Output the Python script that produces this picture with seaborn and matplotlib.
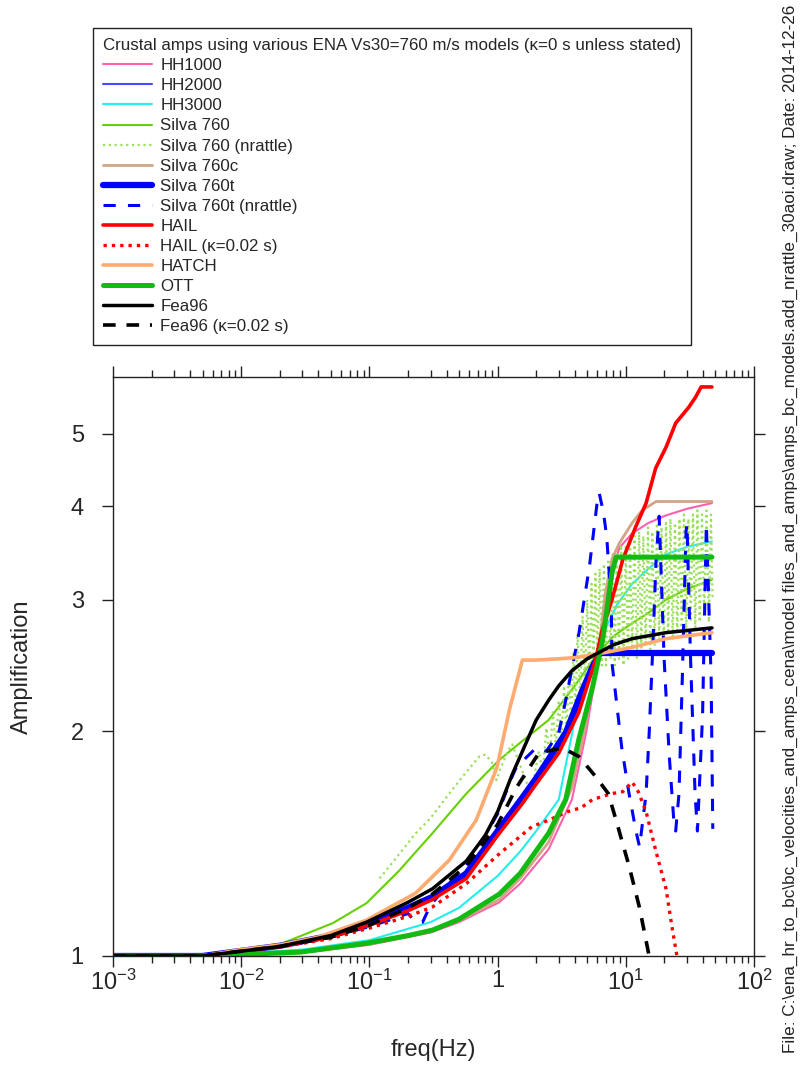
import matplotlib
matplotlib.use('Agg')
import matplotlib.pyplot as plt
import matplotlib.ticker as ticker
import seaborn as sns

# ---- data (freq in Hz, amplification) ----
hh1000_f = [0.001, 0.005, 0.01, 0.03, 0.1, 0.3, 0.5, 1.03, 1.5, 2.5, 3.8, 4.9, 6.2, 6.9, 8.9, 11.2, 15, 20.6, 30, 47]
hh1000_a = [1.0, 1.0, 1.003, 1.01, 1.035, 1.075, 1.11, 1.18, 1.25, 1.39, 1.62, 1.99, 2.54, 3.0, 3.52, 3.68, 3.8, 3.89, 3.97, 4.04]

hh2000_f = [0.001, 0.005, 0.01, 0.02, 0.05, 0.1, 0.2, 0.31, 0.57, 1.0, 1.56, 2.0, 3.0, 4.3, 5.0, 5.8, 6.5, 7.8, 9.5, 11.9, 14.4, 17.1, 20.6, 24.5, 31, 35, 38.7, 47]
hh2000_a = [1.0, 1.0, 1.016, 1.031, 1.062, 1.102, 1.155, 1.195, 1.28, 1.46, 1.61, 1.71, 1.88, 2.12, 2.3, 2.49, 2.72, 3.0, 3.4, 3.75, 4.04, 4.5, 4.8, 5.17, 5.43, 5.6, 5.78, 5.78]

hh3000_f = [0.001, 0.005, 0.01, 0.03, 0.1, 0.3, 0.5, 1.0, 1.5, 2.0, 3.0, 4.3, 5.8, 7.0, 8.5, 11.2, 15, 20.6, 30, 47]
hh3000_a = [1.0, 1.0, 1.008, 1.02, 1.05, 1.11, 1.16, 1.28, 1.38, 1.47, 1.62, 2.2, 2.51, 2.75, 2.95, 3.15, 3.3, 3.45, 3.53, 3.59]

silva_f = [0.001, 0.0048, 0.01, 0.021, 0.052, 0.095, 0.17, 0.31, 0.57, 1.03, 1.5, 2.5, 4.0, 5.8, 8.0, 11.2, 15, 20.6, 30, 47]
silva_a = [1.0, 1.0, 1.015, 1.04, 1.107, 1.177, 1.30, 1.46, 1.65, 1.83, 1.93, 2.07, 2.3, 2.52, 2.68, 2.79, 2.88, 3.0, 3.1, 3.19]

silva_nr_f = [0.12, 0.16, 0.23, 0.3, 0.42, 0.55, 0.72, 0.8, 0.9, 0.98, 1.05, 1.2, 1.3, 1.5, 1.7, 1.85,
              2.1, 2.25, 2.4, 2.55, 2.7, 2.85, 3.0, 3.15, 3.3, 3.45, 3.6, 3.75, 3.9, 4.05, 4.2, 4.4,
              4.6, 4.8, 5.0, 5.2, 5.4, 5.6, 5.8, 6.0, 6.25, 6.5, 6.75, 7.0, 7.3, 7.6, 7.9, 8.2, 8.5,
              8.85, 9.2, 9.6, 10.0, 10.4, 10.8, 11.2, 11.7, 12.2, 12.7, 13.2, 13.7, 14.3, 14.9, 15.5,
              16.1, 16.8, 17.5, 18.2, 19.0, 19.8, 20.6, 21.4, 22.3, 23.2, 24.2, 25.2, 26.2, 27.3,
              28.4, 29.6, 30.8, 32.1, 33.4, 34.8, 36.2, 37.7, 39.3, 40.9, 42.6, 44.4, 46.2, 47.5]
silva_nr_a = [1.27, 1.35, 1.46, 1.53, 1.65, 1.75, 1.85, 1.86, 1.82, 1.72, 1.78, 1.88, 1.92, 1.80, 1.70, 1.67,
              1.88, 1.75, 2.02, 1.85, 2.12, 1.90, 2.20, 1.95, 2.30, 2.00, 2.40, 2.05, 2.55, 2.10, 2.70, 2.20,
              2.85, 2.30, 3.00, 2.35, 3.15, 2.45, 3.25, 2.50, 3.30, 2.45, 3.35, 2.45, 3.40, 2.50, 3.45, 2.45, 3.50,
              2.50, 3.55, 2.45, 3.55, 2.50, 3.60, 2.55, 3.65, 2.50, 3.70, 2.55, 3.65, 2.60, 3.75, 2.55,
              3.70, 2.60, 3.80, 2.65, 3.75, 2.60, 3.80, 2.70, 3.85, 2.65, 3.80, 2.70, 3.85, 2.75,
              3.90, 2.70, 3.85, 2.80, 3.90, 2.75, 3.95, 2.80, 3.90, 2.85, 3.95, 2.80, 3.90, 3.00]

silva_c_f = [0.001, 0.005, 0.01, 0.03, 0.1, 0.3, 0.5, 1.03, 1.5, 2.5, 3.8, 4.9, 6.2, 6.9, 7.8, 8.9, 11.2, 13.4, 17.2, 47]
silva_c_a = [1.0, 1.0, 1.004, 1.012, 1.038, 1.08, 1.115, 1.19, 1.27, 1.42, 1.68, 2.05, 2.6, 3.05, 3.40, 3.57, 3.8, 3.95, 4.06, 4.06]

silva_t_f = [0.001, 0.005, 0.01, 0.02, 0.05, 0.1, 0.2, 0.31, 0.57, 1.0, 1.56, 2.0, 3.4, 4.5, 5.5, 6.3, 47]
silva_t_a = [1.0, 1.0, 1.016, 1.032, 1.065, 1.105, 1.16, 1.20, 1.29, 1.47, 1.63, 1.73, 1.99, 2.25, 2.44, 2.545, 2.545]

silva_tnr_f = [0.001, 0.005, 0.01, 0.02, 0.05, 0.1, 0.15, 0.2, 0.23, 0.26, 0.3, 0.4, 0.57, 0.8, 1.0, 1.3, 1.4,
               2.0, 2.4, 3.0, 3.4, 4.3, 5.2, 6.0, 6.2, 6.7, 7.1, 7.7, 7.8, 9.3, 10.6, 12.0, 12.8, 14.4,
               15.2, 16.1, 17.2, 18.2, 19.9, 21.8, 23.8, 24.5, 26.0, 27.6, 29.5, 30.0, 32.0, 34.7, 36.2,
               39.7, 42.5, 46.3, 47.7]
silva_tnr_a = [1.0, 1.0, 1.017, 1.03, 1.06, 1.095, 1.12, 1.14, 1.11, 1.11, 1.17, 1.24, 1.32, 1.45, 1.55, 1.74, 1.79,
               1.9, 1.88, 1.99, 2.2, 2.7, 3.32, 4.07, 4.17, 3.92, 3.64, 2.97, 2.47, 1.9, 1.65, 1.47, 1.40, 1.65,
               1.98, 2.5, 3.37, 3.88, 2.5, 1.86, 1.50, 1.47, 1.65, 2.36, 3.7, 3.79, 2.5, 1.65, 1.47,
               2.1, 3.79, 2.36, 1.48]

hail_f = [0.001, 0.005, 0.01, 0.02, 0.05, 0.1, 0.2, 0.31, 0.57, 1.0, 1.56, 2.0, 3.0, 4.3, 5.0, 5.8, 6.5, 7.8, 9.5, 11.9, 14.4, 17.1, 20.6, 24.5, 31, 35, 38.7, 47]
hail_a = [1.0, 1.0, 1.015, 1.03, 1.06, 1.10, 1.15, 1.19, 1.27, 1.45, 1.60, 1.70, 1.87, 2.12, 2.30, 2.49, 2.72, 3.0, 3.4, 3.75, 4.04, 4.5, 4.8, 5.17, 5.43, 5.6, 5.78, 5.78]

hail02_f = [0.001, 0.005, 0.01, 0.02, 0.05, 0.1, 0.2, 0.31, 0.57, 1.03, 1.85, 2.5, 3.5, 4.5, 5.5, 7.8, 9.5, 11.2, 12.5, 14.4, 17.2, 20.6, 23, 25.3, 26]
hail02_a = [1.0, 1.0, 1.015, 1.028, 1.055, 1.09, 1.13, 1.163, 1.25, 1.37, 1.49, 1.52, 1.56, 1.58, 1.62, 1.65, 1.66, 1.71, 1.66, 1.56, 1.38, 1.23, 1.09, 0.99, 0.95]

hatch_f = [0.001, 0.005, 0.01, 0.02, 0.04, 0.095, 0.23, 0.42, 0.68, 0.99, 1.24, 1.56, 2.0, 3.0, 4.1, 6.2, 11.2, 20.6, 47]
hatch_a = [1.0, 1.0, 1.02, 1.035, 1.06, 1.117, 1.214, 1.344, 1.52, 1.79, 2.14, 2.49, 2.49, 2.50, 2.51, 2.54, 2.59, 2.66, 2.71]

ott_f = [0.001, 0.005, 0.01, 0.029, 0.05, 0.095, 0.2, 0.31, 0.5, 1.03, 1.5, 2.5, 3.4, 4.3, 5.5, 6.6, 7.8, 8.4, 47]
ott_a = [1.0, 1.0, 1.005, 1.012, 1.025, 1.04, 1.065, 1.083, 1.12, 1.21, 1.29, 1.46, 1.62, 1.95, 2.29, 2.65, 3.26, 3.42, 3.42]

fea_f = [0.001, 0.005, 0.01, 0.02, 0.05, 0.095, 0.2, 0.31, 0.57, 0.8, 1.0, 1.3, 1.67, 2.0, 2.5, 3.0, 3.8, 5.0, 6.2, 8, 11.2, 20.6, 47]
fea_a = [1.0, 1.0, 1.015, 1.03, 1.065, 1.11, 1.18, 1.23, 1.34, 1.45, 1.56, 1.75, 1.93, 2.07, 2.2, 2.3, 2.41, 2.5, 2.55, 2.61, 2.66, 2.71, 2.75]

fea02_f = [0.001, 0.005, 0.01, 0.02, 0.05, 0.1, 0.2, 0.31, 0.57, 1.0, 1.4, 2.1, 3.2, 4.3, 5.8, 7.3, 8.4, 10.6, 12.8, 15.2, 16]
fea02_a = [1.0, 1.0, 1.015, 1.03, 1.06, 1.10, 1.16, 1.21, 1.32, 1.5, 1.68, 1.87, 1.9, 1.85, 1.74, 1.65, 1.52, 1.32, 1.16, 1.0, 0.96]

legend_title = 'Crustal amps using various ENA Vs30=760 m/s models (\u03ba=0 s unless stated)'
file_note = ('File: C:\\ena_hr_to_bc\\bc_velocities_and_amps_cena\\model files_and_amps\\'
             'amps_bc_models.add_nrattle_30aoi.draw; Date: 2014-12-26')
xtick_vals = [1e-3, 1e-2, 1e-1, 1, 1e1, 1e2]
xtick_labels = ['$\\mathregular{10^{-3}}$', '$\\mathregular{10^{-2}}$', '$\\mathregular{10^{-1}}$', '1',
                '$\\mathregular{10^{1}}$', '$\\mathregular{10^{2}}$']
ytick_vals = [1, 2, 3, 4, 5]

# label, freq, amp, colour, linewidth, linestyle
curves = [
    ('HH1000', hh1000_f, hh1000_a, '#ff5fae', 1.5, '-'),
    ('HH2000', hh2000_f, hh2000_a, '#4848ff', 1.5, '-'),
    ('HH3000', hh3000_f, hh3000_a, '#22eeee', 1.5, '-'),
    ('Silva 760', silva_f, silva_a, '#66d000', 1.5, '-'),
    ('Silva 760 (nrattle)', silva_nr_f, silva_nr_a, '#9ae05a', 1.6, (0, (1, 1.6))),
    ('Silva 760c', silva_c_f, silva_c_a, '#d2a385', 2.0, '-'),
    ('Silva 760t', silva_t_f, silva_t_a, '#0000ff', 4.5, '-'),
    ('Silva 760t (nrattle)', silva_tnr_f, silva_tnr_a, '#0000ff', 2.2, (0, (4, 4))),
    ('HAIL', hail_f, hail_a, '#ff0000', 2.6, '-'),
    ('HAIL (\u03ba=0.02 s)', hail02_f, hail02_a, '#ff0000', 2.4, (0, (1, 1.5))),
    ('HATCH', hatch_f, hatch_a, '#ffaa6e', 2.6, '-'),
    ('OTT', ott_f, ott_a, '#11bb11', 3.6, '-'),
    ('Fea96', fea_f, fea_a, '#000000', 2.5, '-'),
    ('Fea96 (\u03ba=0.02 s)', fea02_f, fea02_a, '#000000', 2.6, (0, (3.5, 3))),
]

sns.set_theme(style='white')
plt.rcParams['font.family'] = ['Liberation Sans', 'DejaVu Sans']
plt.rcParams['mathtext.fontset'] = 'custom'
plt.rcParams['mathtext.rm'] = 'Liberation Sans'

fig = plt.figure(figsize=(8.01, 10.73), dpi=100)
ax = fig.add_axes([113 / 801, 1 - 956 / 1073, (754 - 113) / 801, (956 - 377) / 1073])

for lab, f, a, col, lw, ls in curves:
    sns.lineplot(x=f, y=a, ax=ax, color=col, lw=lw, linestyle=ls, label=lab,
                 estimator=None, sort=False)

ax.set_xscale('log')
ax.set_yscale('log')
ax.set_xlim(1e-3, 1e2)
ax.set_ylim(1, 5.96)

ax.set_xticks(xtick_vals)
ax.set_xticklabels(xtick_labels)
ax.xaxis.set_minor_locator(ticker.LogLocator(base=10, subs=range(2, 10), numticks=20))
ax.xaxis.set_minor_formatter(ticker.NullFormatter())
ax.set_yticks(ytick_vals)
ax.set_yticklabels([str(v) for v in ytick_vals])
ax.yaxis.set_minor_locator(ticker.NullLocator())

ax.tick_params(which='both', direction='out', top=True, right=True, left=True, bottom=True,
               labeltop=False, labelright=False, color='#222222', width=1.0)
ax.tick_params(which='major', length=8, labelsize=17)
ax.tick_params(axis='x', which='major', pad=2)
ax.tick_params(axis='y', which='major', pad=13)
ax.tick_params(which='minor', length=5)
for s in ax.spines.values():
    s.set_color('#222222')
    s.set_linewidth(1.0)

ax.set_xlabel('freq(Hz)', fontsize=17)
ax.xaxis.set_label_coords(0.5, (956 - 1050) / 579)
ax.xaxis.label.set_va('center')
ax.set_ylabel('Amplification', fontsize=17)
ax.yaxis.set_label_coords((22 - 113) / 641, 0.5)
ax.yaxis.label.set_va('center')

handles, labels = ax.get_legend_handles_labels()
leg = ax.legend(handles, labels, loc='upper left', bbox_to_anchor=(93 / 801, 1 - 28 / 1073),
                bbox_transform=fig.transFigure, title=legend_title, alignment='left',
                fontsize=12.2, title_fontsize=12.2, frameon=True, fancybox=False, edgecolor='#222222',
                framealpha=1, borderaxespad=0, borderpad=0.6, labelspacing=0.3,
                handlelength=2.9, handletextpad=0.47)
leg.get_frame().set_linewidth(1.0)

fig.text(790 / 801, 1 - 1053 / 1073, file_note, rotation=90, rotation_mode='anchor',
         ha='left', va='center', fontsize=12.3, color='#222222')

fig.savefig('out.png', dpi=100)
